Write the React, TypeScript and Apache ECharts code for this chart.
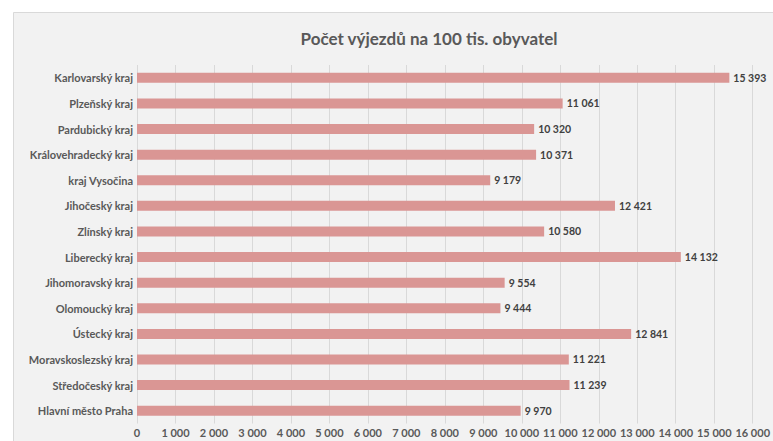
import React, { useEffect, useRef } from "react";
import * as echarts from "echarts";

const categories = [
  "Hlavní město Praha",
  "Středočeský kraj",
  "Moravskoslezský kraj",
  "Ústecký kraj",
  "Olomoucký kraj",
  "Jihomoravský kraj",
  "Liberecký kraj",
  "Zlínský kraj",
  "Jihočeský kraj",
  "kraj Vysočina",
  "Královehradecký kraj",
  "Pardubický kraj",
  "Plzeňský kraj",
  "Karlovarský kraj",
];

const values = [9970, 11239, 11221, 12841, 9444, 9554, 14132, 10580, 12421, 9179, 10371, 10320, 11061, 15393];

const titleText = "Počet výjezdů na 100 tis. obyvatel";

const fmt = (v: number) => String(Math.round(v)).replace(/\B(?=(\d{3})+(?!\d))/g, " ");

const FONT = "Lato";

export default function App() {
  const ref = useRef<HTMLDivElement>(null);
  useEffect(() => {
    document.body.style.margin = "0";
    const chart = echarts.init(ref.current!, undefined, { renderer: "svg" });
    chart.setOption({
      animation: false,
      backgroundColor: "#ffffff",
      graphic: [
        {
          type: "rect",
          z: -10,
          silent: true,
          shape: { x: 13.5, y: 12.5, width: 800, height: 500 },
          style: { fill: "#f2f2f2", stroke: "#d9d9d9", lineWidth: 1 },
        },
        {
          type: "text",
          x: 429,
          y: 38,
          style: {
            text: titleText,
            font: `bold 17px ${FONT}`,
            fill: "#595959",
            align: "center",
            verticalAlign: "middle",
          },
        },
      ],
      grid: { left: 137, right: 17, top: 65, bottom: 17.5, containLabel: false },
      xAxis: {
        type: "value",
        min: 0,
        max: 16000,
        interval: 1000,
        axisLine: { show: false },
        axisTick: { show: false },
        splitLine: { show: true, lineStyle: { color: "#d9d9d9", width: 1 } },
        axisLabel: {
          formatter: (v: number) => fmt(v),
          color: "#595959",
          fontFamily: FONT,
          fontWeight: "bold",
          fontSize: 11,
          margin: 3,
        },
      },
      yAxis: {
        type: "category",
        data: categories,
        axisLine: { show: false },
        axisTick: { show: false },
        splitLine: { show: false },
        axisLabel: {
          color: "#595959",
          fontFamily: FONT,
          fontWeight: "bold",
          fontSize: 11,
          margin: 4,
        },
      },
      series: [
        {
          type: "bar",
          data: values,
          barWidth: 10,
          itemStyle: { color: "#da9694" },
          label: {
            show: true,
            position: "right",
            distance: 4,
            formatter: (p: any) => fmt(p.value),
            color: "#404040",
            fontFamily: FONT,
            fontWeight: "bold",
            fontSize: 10.5,
          },
        },
      ],
    });
    return () => chart.dispose();
  }, []);
  return <div ref={ref} style={{ width: 773, height: 441 }} />;
}
